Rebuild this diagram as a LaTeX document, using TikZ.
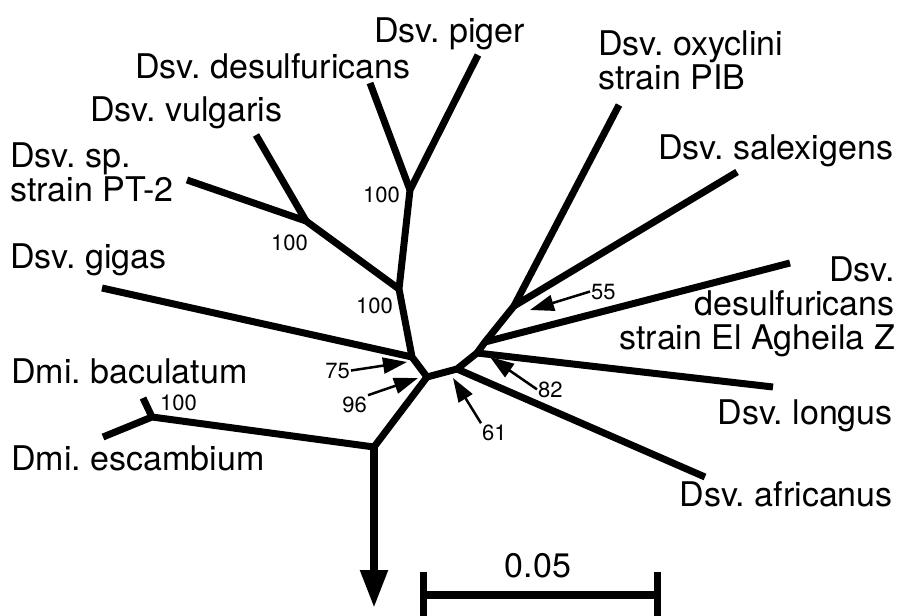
\documentclass[tikz,border=0pt]{standalone}
\usepackage{fontspec}
\setmainfont{TeX Gyre Heros}
\usetikzlibrary{arrows.meta}
\frenchspacing
\begin{document}
\begin{tikzpicture}[x=1pt,y=-1pt,
  branch/.style={line width=7pt, line join=round},
  rootarrow/.style={line width=8pt, -{Triangle[length=38pt,width=26pt]}},
  barline/.style={line width=8pt},
  taxon/.style={font=\fontsize{34}{34}\selectfont, inner sep=0pt},
  boot/.style={font=\fontsize{22}{22}\selectfont, inner sep=1pt},
  pointer/.style={line width=2.5pt, -{Triangle[length=24pt,width=16pt]}},
]
\useasboundingbox[fill=white] (0,0) rectangle (903,616);

% internal nodes of the tree
\coordinate (C) at (427,377);
\coordinate (G) at (412,357);
\coordinate (A) at (399,289);
\coordinate (B) at (410,190);
\coordinate (V) at (306,221);
\coordinate (K) at (374,447);
\coordinate (D) at (152,417);
\coordinate (R) at (457,369);
\coordinate (L) at (477,353);
\coordinate (E) at (485,342);
\coordinate (S) at (514,306);

% leaf ends
\coordinate (tPiger) at (478,55);
\coordinate (tDesulf) at (370,83);
\coordinate (tVulg) at (256,135);
\coordinate (tPT) at (187,180);
\coordinate (tGigas) at (102,288);
\coordinate (tBac) at (143,398);
\coordinate (tEsc) at (103,437);
\coordinate (tOxy) at (619,105);
\coordinate (tSal) at (737,172);
\coordinate (tElAg) at (790,263);
\coordinate (tLong) at (773,387);
\coordinate (tAfr) at (705,477);
\coordinate (tRoot) at (374,608);

% branches
\draw[branch] (C) -- (G) -- (A) -- (B) -- (tPiger);
\draw[branch] (B) -- (tDesulf);
\draw[branch] (A) -- (V) -- (tPT);
\draw[branch] (V) -- (tVulg);
\draw[branch] (G) -- (tGigas);
\draw[branch] (C) -- (K) -- (D) -- (tEsc);
\draw[branch] (D) -- (tBac);
\draw[branch] (C) -- (R) -- (L) -- (E) -- (S) -- (tOxy);
\draw[branch] (S) -- (tSal);
\draw[branch] (E) -- (tElAg);
\draw[branch] (L) -- (tLong);
\draw[branch] (R) -- (tAfr);
\draw[rootarrow] (K) -- (tRoot);

% taxon names (base of a multi-line name = its last line)
\node[taxon, anchor=base west] (nPiger) at (374,42) {Dsv. piger};
\node[taxon, anchor=base west] (nDesulf) at (135,78) {Dsv. desulfuricans};
\node[taxon, anchor=base west] (nVulg) at (90,121) {Dsv. vulgaris};
\node[taxon, anchor=base west, align=left] (nPT) at (10,201) {Dsv. sp.\\strain PT-2};
\node[taxon, anchor=base west] (nGigas) at (10,268) {Dsv. gigas};
\node[taxon, anchor=base west] (nBac) at (11,383) {Dmi. baculatum};
\node[taxon, anchor=base west] (nEsc) at (11,470) {Dmi. escambium};
\node[taxon, anchor=base west, align=left] (nOxy) at (598,89) {Dsv. oxyclini\\strain PIB};
\node[taxon, anchor=base west] (nSal) at (658,159) {Dsv. salexigens};
\node[taxon, anchor=base east, align=right] (nElAg) at (895,349) {Dsv.\\desulfuricans\\strain El Agheila Z};
\node[taxon, anchor=base east] (nLong) at (893,424) {Dsv. longus};
\node[taxon, anchor=base east] (nAfr) at (893,506) {Dsv. africanus};

% bootstrap values
\node[boot, anchor=base east] (bB) at (401,202) {100};
\node[boot, anchor=base east] (bV) at (309,250) {100};
\node[boot, anchor=base east] (bA) at (394,313) {100};
\node[boot, anchor=base west] (bD) at (159,410) {100};
\node[boot, anchor=base east] (b75) at (351,378) {75};
\node[boot, anchor=base east] (b96) at (368,412) {96};
\node[boot, anchor=base west] (b61) at (481,440) {61};
\node[boot, anchor=base west] (b82) at (537,397) {82};
\node[boot, anchor=base west] (b55) at (590,299) {55};

% pointers to the nodes
\coordinate (p75) at (407,362);
\coordinate (p96) at (418,378);
\coordinate (p61) at (453,378);
\coordinate (p82) at (490,357);
\coordinate (p55) at (530,310);
\draw[pointer] (b75.east) -- (p75);
\draw[pointer] (b96.north east) -- (p96);
\draw[pointer] (b61.north west) -- (p61);
\draw[pointer] (b82.west) -- (p82);
\draw[pointer] (b55.west) -- (p55);

% scale bar
\coordinate (sL) at (423,595);
\coordinate (sR) at (657,595);
\draw[barline] (sL) -- (sR);
\draw[barline, line width=7pt] ([yshift=-23pt]sL) -- ([yshift=23pt]sL);
\draw[barline, line width=7pt] ([yshift=-23pt]sR) -- ([yshift=23pt]sR);
\node[taxon, anchor=base] (nScale) at (538,577) {0.05};
\end{tikzpicture}
\end{document}
